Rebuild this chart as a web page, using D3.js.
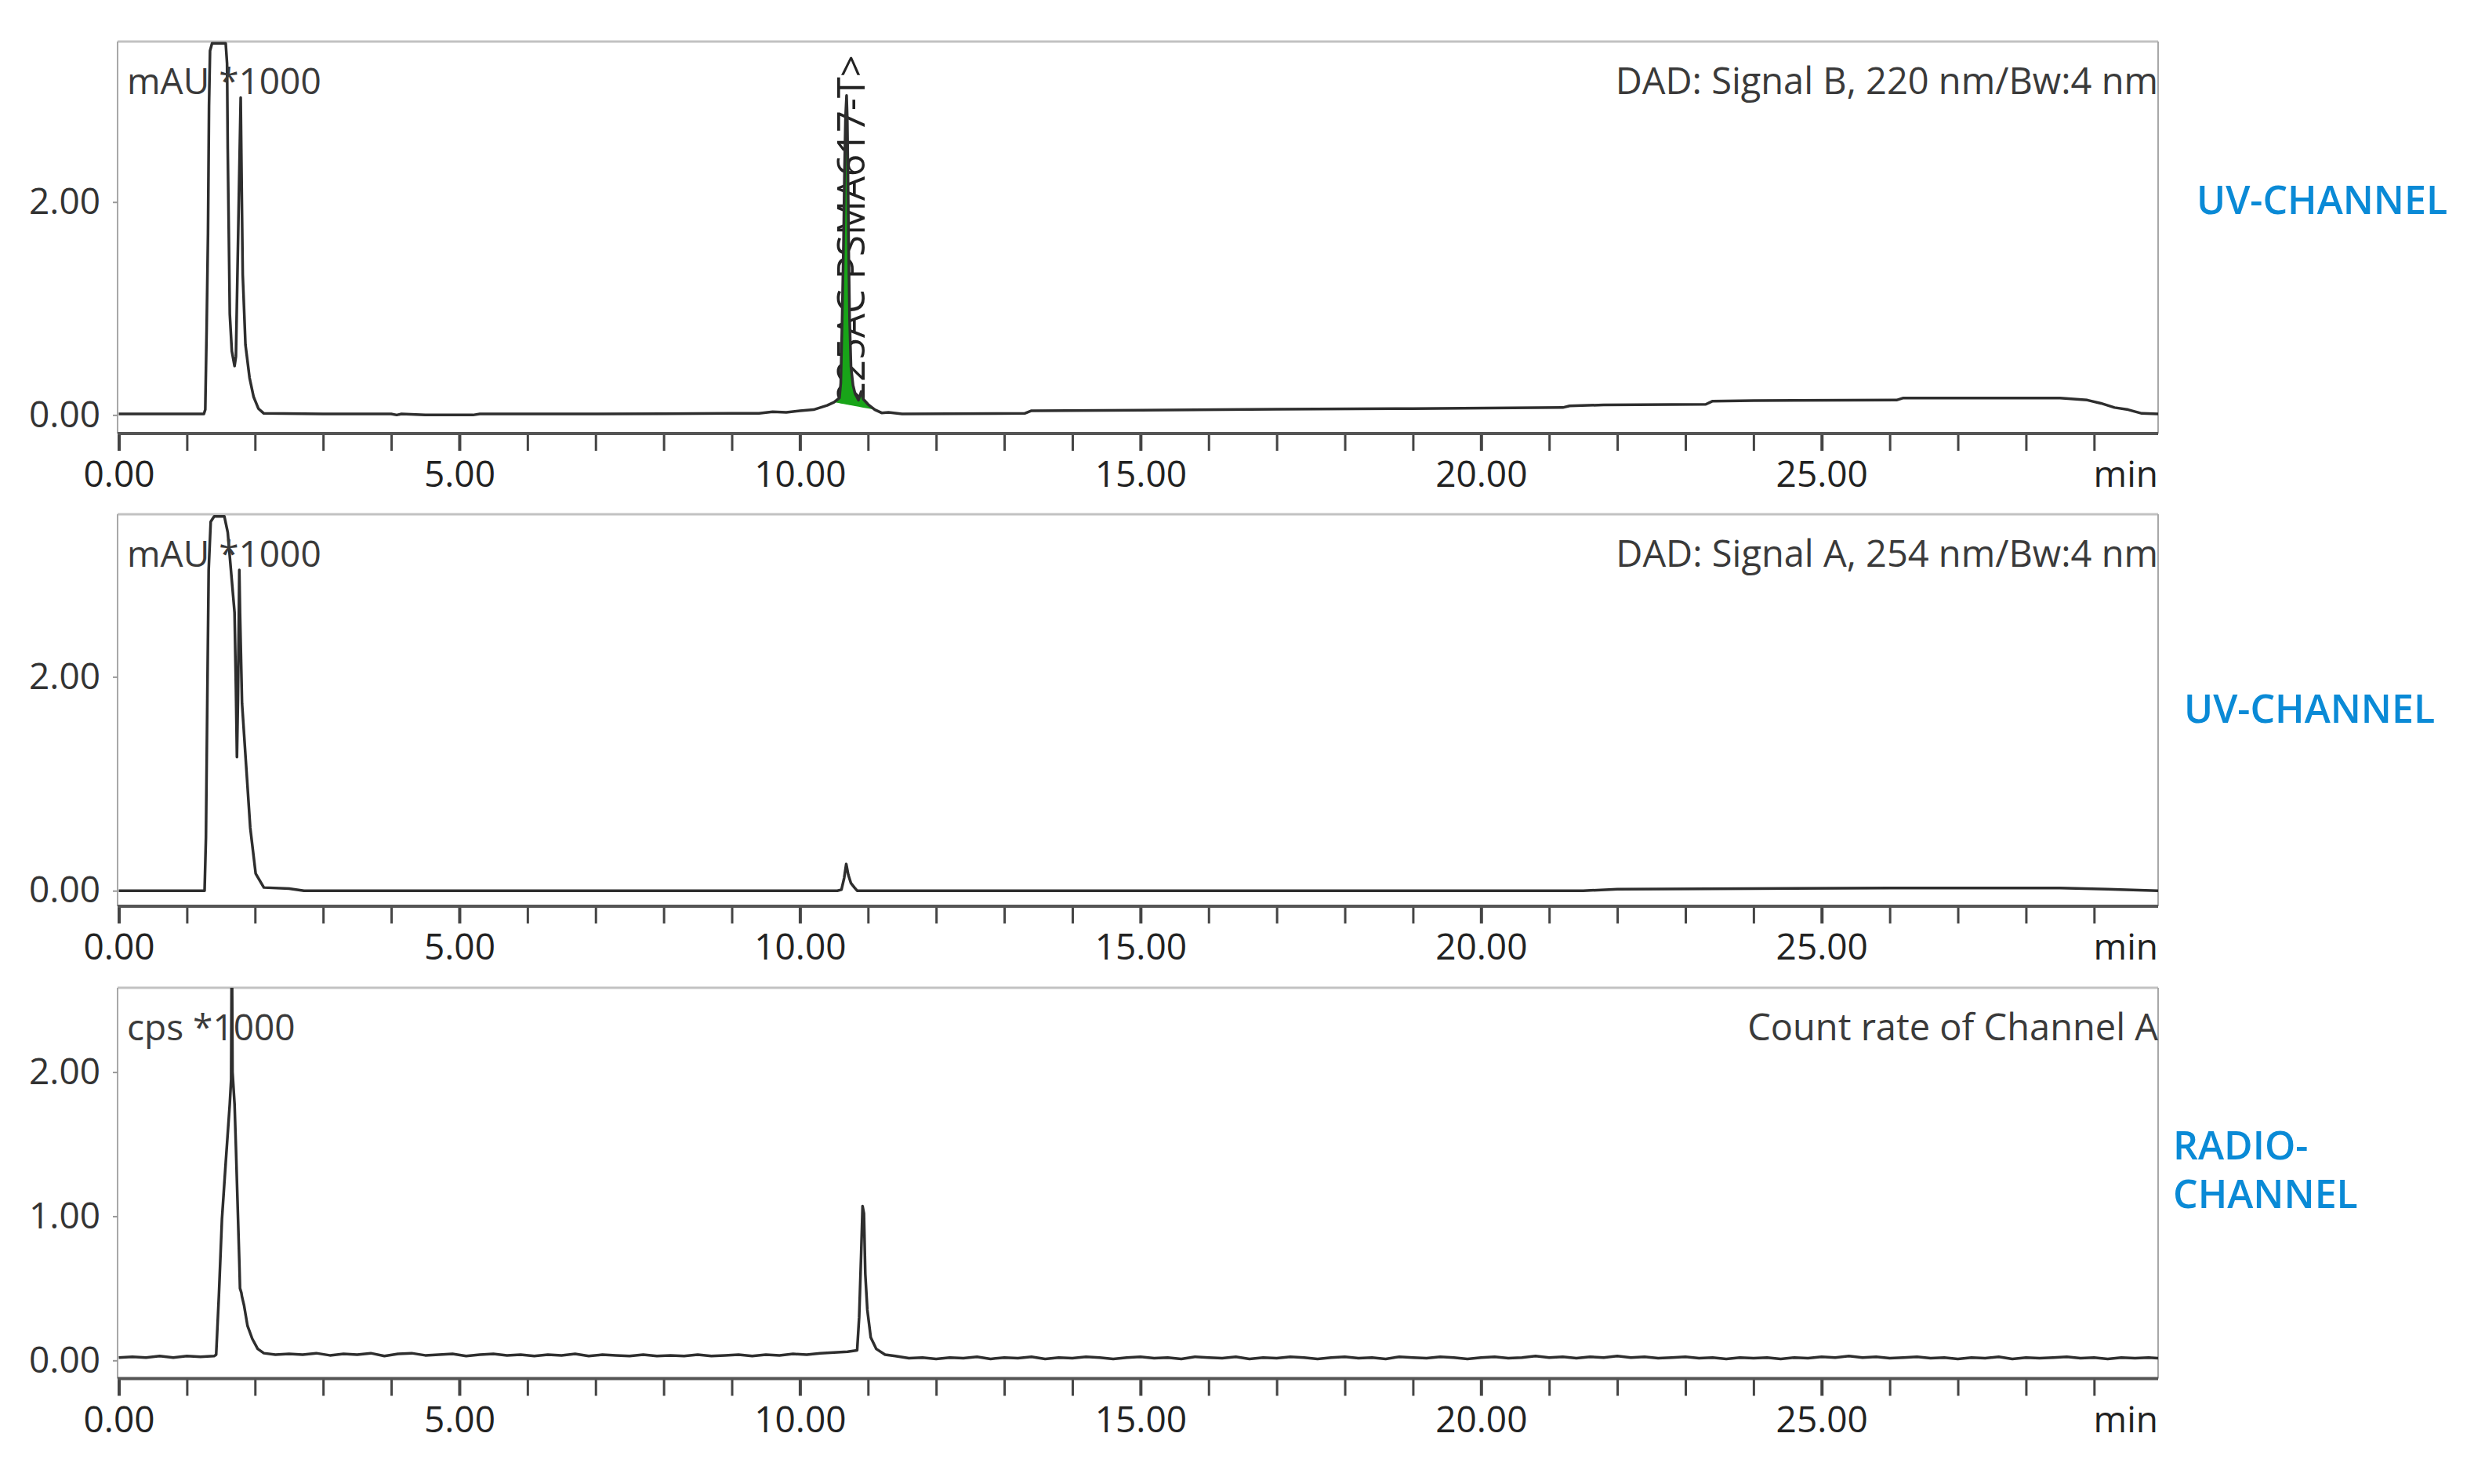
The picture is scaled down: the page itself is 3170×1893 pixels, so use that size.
<!DOCTYPE html>
<html>
<head>
<meta charset="utf-8">
<script src="https://cdn.jsdelivr.net/npm/d3@7"></script>
<style>
  body { margin: 0; background: #fff; }
  text { font-family: "Open Sans", sans-serif; }
</style>
</head>
<body>
<div id="chart"></div>
<script>
// x axis (retention time, min)
var minorTicks = [0,1,2,3,4,5,6,7,8,9,10,11,12,13,14,15,16,17,18,19,20,21,22,23,24,25,26,27,28,29];
var majorTicks = [0, 5, 10, 15, 20, 25];
var tickLabels = ["0.00", "5.00", "10.00", "15.00", "20.00", "25.00"];

// DAD signal B, 220 nm  [min, mAU*1000]
var uv220 = [
  [0,0.01],[1.25,0.01],[1.27,0.05],[1.29,0.8],[1.31,1.7],[1.325,2.9],[1.34,3.42],[1.37,3.49],
  [1.57,3.49],[1.59,3.3],[1.60,2.5],[1.63,0.95],[1.66,0.6],[1.70,0.46],[1.72,0.55],[1.79,2.98],
  [1.805,2.13],[1.82,1.32],[1.86,0.66],[1.92,0.35],[1.98,0.17],[2.05,0.06],[2.13,0.015],
  [3.0,0.01],[4.0,0.01],[4.08,0.0],[4.15,0.01],[4.5,0.0],[5.2,0.0],[5.3,0.01],[7.0,0.01],
  [8.0,0.012],[9.0,0.015],[9.4,0.015],[9.6,0.03],[9.8,0.025],[10.0,0.04],[10.2,0.05],[10.4,0.09],
  [10.5,0.12],[10.58,0.16],[10.60,0.3],[10.62,0.9],[10.64,1.6],[10.655,2.3],[10.67,2.8],[10.685,3.0],
  [10.695,2.8],[10.705,2.3],[10.715,1.6],[10.73,0.9],[10.75,0.45],[10.78,0.28],[10.81,0.2],
  [10.86,0.14],[10.90,0.22],[10.93,0.15],[11.0,0.1],[11.1,0.05],
  [11.2,0.02],[11.3,0.025],[11.5,0.01],[13.3,0.015],[13.4,0.04],[15,0.045],[17,0.055],[19,0.06],
  [21.2,0.07],[21.3,0.085],[21.8,0.095],[23.3,0.1],[23.4,0.13],[24,0.135],[26.1,0.14],[26.2,0.16],
  [28.5,0.16],[28.9,0.14],[29.1,0.11],[29.3,0.07],[29.5,0.05],[29.7,0.015],[29.94,0.01]
];
// integrated peak window on the 220 nm trace
var peakWindow = [10.5, 11.1];
var peakName = "225AC PSMA617-T>";
var peakTime = 10.70;

// DAD signal A, 254 nm
var uv254 = [
  [0,0.0],[1.26,0.0],[1.28,0.5],[1.30,1.8],[1.32,3.0],[1.35,3.45],[1.40,3.5],[1.55,3.5],
  [1.60,3.35],[1.66,2.9],[1.70,2.6],[1.72,1.9],[1.735,1.25],[1.75,1.8],[1.77,3.0],[1.78,2.6],
  [1.81,1.75],[1.87,1.17],[1.93,0.59],[2.01,0.16],[2.13,0.03],[2.5,0.02],[2.72,0.0],
  [10.55,0.0],[10.61,0.01],[10.65,0.12],[10.68,0.25],[10.71,0.15],[10.75,0.07],[10.8,0.03],
  [10.84,0.0],[21.5,0.0],[22,0.015],[24,0.02],[26,0.025],[28.5,0.025],[29.2,0.015],[29.94,0.0]
];

// radio detector, count rate channel A  [min, cps*1000]
var radio = [
  [0,0.02],[0.2,0.025],[0.4,0.02],[0.6,0.03],[0.8,0.02],[1.0,0.03],[1.2,0.025],[1.4,0.03],
  [1.43,0.04],[1.47,0.45],[1.515,0.98],[1.57,1.37],[1.63,1.78],[1.65,1.95],[1.66,3.0],[1.67,2.0],
  [1.70,1.78],[1.72,1.48],[1.77,0.68],[1.78,0.50],[1.80,0.47],[1.81,0.44],[1.84,0.38],[1.89,0.24],
  [1.96,0.15],[2.04,0.08],[2.13,0.05],[2.3,0.04],
  [2.5,0.045],[2.7,0.04],[2.9,0.05],[3.1,0.035],[3.3,0.045],[3.5,0.04],[3.7,0.05],[3.9,0.03],
  [4.1,0.045],[4.3,0.05],[4.5,0.035],[4.7,0.04],[4.9,0.045],[5.1,0.03],[5.3,0.04],[5.5,0.045],
  [5.7,0.035],[5.9,0.04],[6.1,0.03],[6.3,0.04],[6.5,0.035],[6.7,0.045],[6.9,0.03],[7.1,0.04],
  [7.3,0.035],[7.5,0.03],[7.7,0.04],[7.9,0.03],[8.1,0.035],[8.3,0.03],[8.5,0.04],[8.7,0.03],
  [8.9,0.035],[9.1,0.04],[9.3,0.03],[9.5,0.04],[9.7,0.035],[9.9,0.045],[10.1,0.04],[10.3,0.05],
  [10.5,0.055],[10.7,0.06],[10.84,0.07],
  [10.87,0.3],[10.90,0.75],[10.92,1.07],[10.94,1.02],[10.96,0.6],[10.99,0.35],[11.04,0.16],
  [11.12,0.08],[11.25,0.04],[11.4,0.03],[11.6,0.015],
  [11.8,0.02],[12.0,0.01],[12.2,0.02],[12.4,0.015],[12.6,0.025],[12.8,0.01],[13.0,0.02],[13.2,0.015],
  [13.4,0.025],[13.6,0.01],[13.8,0.02],[14.0,0.015],[14.2,0.025],[14.4,0.02],[14.6,0.01],[14.8,0.02],
  [15.0,0.025],[15.2,0.015],[15.4,0.02],[15.6,0.01],[15.8,0.025],[16.0,0.02],[16.2,0.015],[16.4,0.025],
  [16.6,0.01],[16.8,0.02],[17.0,0.015],[17.2,0.025],[17.4,0.02],[17.6,0.01],[17.8,0.02],[18.0,0.025],
  [18.2,0.015],[18.4,0.02],[18.6,0.01],[18.8,0.025],[19.0,0.02],[19.2,0.015],[19.4,0.025],[19.6,0.02],
  [19.8,0.01],[20.0,0.02],[20.2,0.025],[20.4,0.015],[20.6,0.02],[20.8,0.03],[21.0,0.02],[21.2,0.025],
  [21.4,0.015],[21.6,0.025],[21.8,0.02],[22.0,0.03],[22.2,0.02],[22.4,0.025],[22.6,0.015],[22.8,0.02],
  [23.0,0.025],[23.2,0.015],[23.4,0.02],[23.6,0.01],[23.8,0.02],[24.0,0.015],[24.2,0.02],[24.4,0.01],
  [24.6,0.02],[24.8,0.015],[25.0,0.025],[25.2,0.02],[25.4,0.03],[25.6,0.02],[25.8,0.025],[26.0,0.015],
  [26.2,0.02],[26.4,0.025],[26.6,0.015],[26.8,0.02],[27.0,0.01],[27.2,0.02],[27.4,0.015],[27.6,0.025],
  [27.8,0.01],[28.0,0.02],[28.2,0.015],[28.4,0.02],[28.6,0.025],[28.8,0.015],[29.0,0.02],[29.2,0.01],
  [29.4,0.02],[29.6,0.015],[29.8,0.02],[29.94,0.015]
];

var panelTitles = ["DAD: Signal B, 220 nm/Bw:4 nm", "DAD: Signal A, 254 nm/Bw:4 nm", "Count rate of Channel A"];
var unitLabels = ["mAU *1000", "mAU *1000", "cps *1000"];
var channelLabels = [["UV-CHANNEL"], ["UV-CHANNEL"], ["RADIO-", "CHANNEL"]];
var yTickValues = [[0, 2], [0, 2], [0, 1, 2]];

// layout of the three stacked panels
var panels = [
  {data: uv220, top: 53, bottom: 553, yDomain: [-0.174, 3.507], chX: 2802, chY: [273]},
  {data: uv254, top: 656, bottom: 1156, yDomain: [-0.145, 3.52], chX: 2786, chY: [922]},
  {data: radio, top: 1260, bottom: 1758.5, yDomain: [-0.126, 2.585], chX: 2772, chY: [1479, 1541]}
];

var left = 150, right = 2753;

var svg = d3.select("#chart")
  .append("svg")
    .attr("width", 3170)
    .attr("height", 1893)
    .style("background", "#fff");

var x = d3.scaleLinear()
  .domain([0, 29.94])
  .range([151.5, right]);

panels.forEach(function(p, i) {
  var y = d3.scaleLinear()
    .domain(p.yDomain)
    .range([p.bottom, p.top]);

  var g = svg.append("g");

  g.append("clipPath")
    .attr("id", "clip" + i)
    .append("rect")
      .attr("x", left)
      .attr("y", p.top)
      .attr("width", right - left)
      .attr("height", p.bottom - p.top);

  // frame
  g.append("line")
    .attr("x1", left).attr("x2", right)
    .attr("y1", p.top).attr("y2", p.top)
    .attr("stroke", "#c2c2c2").attr("stroke-width", 3);
  g.selectAll(".side")
    .data([left, right])
    .enter()
    .append("line")
      .attr("x1", function(d) { return d; })
      .attr("x2", function(d) { return d; })
      .attr("y1", p.top).attr("y2", p.bottom)
      .attr("stroke", "#a8a8a8").attr("stroke-width", 2);

  // peak name sits under the trace, like the integrator prints it
  if (i === 0) {
    g.append("text")
      .attr("transform", "translate(" + (x(peakTime) + 22) + ",515) rotate(-90)")
      .attr("fill", "#222")
      .style("font-size", "49px")
      .text(peakName);
  }

  var line = d3.line()
    .x(function(d) { return x(d[0]); })
    .y(function(d) { return y(d[1]); });

  var plot = g.append("g").attr("clip-path", "url(#clip" + i + ")");

  if (i === 0) {
    // shaded integration area of the labelled peak
    var pk = p.data.filter(function(d) { return d[0] >= peakWindow[0] && d[0] <= peakWindow[1]; });
    var a = pk[0], b = pk[pk.length - 1];
    var area = d3.area()
      .x(function(d) { return x(d[0]); })
      .y0(function(d) { return y(a[1] + (b[1] - a[1]) * (d[0] - a[0]) / (b[0] - a[0])); })
      .y1(function(d) { return y(d[1]); });
    plot.append("path")
      .datum(pk)
      .attr("d", area)
      .attr("fill", "#18a418");
  }

  plot.append("path")
    .datum(p.data)
    .attr("d", line)
    .attr("fill", "none")
    .attr("stroke", "#2e2e2e")
    .attr("stroke-width", 3.5)
    .attr("stroke-linejoin", "round");

  // x axis
  var xAxis = g.append("g")
    .attr("transform", "translate(0," + p.bottom + ")")
    .call(d3.axisBottom(x)
      .tickValues(minorTicks)
      .tickSize(22)
      .tickFormat(function(d) {
        var k = majorTicks.indexOf(d);
        return k >= 0 ? tickLabels[k] : "";
      }));
  xAxis.select(".domain").remove();
  xAxis.append("line")
    .attr("x1", left).attr("x2", right)
    .attr("stroke", "#555").attr("stroke-width", 4);
  xAxis.selectAll(".tick line")
    .attr("stroke", "#444")
    .attr("stroke-width", function(d) { return majorTicks.indexOf(d) >= 0 ? 4 : 3; });
  xAxis.selectAll(".tick text")
    .attr("y", 68)
    .attr("dy", null)
    .attr("fill", "#222")
    .style("font-size", "46px");
  xAxis.append("text")
    .attr("x", right)
    .attr("y", 68)
    .attr("text-anchor", "end")
    .attr("fill", "#222")
    .style("font-size", "46px")
    .text("min");

  // y axis
  var yAxis = g.append("g")
    .attr("transform", "translate(" + left + ",0)")
    .call(d3.axisLeft(y)
      .tickValues(yTickValues[i])
      .tickSize(6)
      .tickPadding(16)
      .tickFormat(d3.format(".2f")));
  yAxis.select(".domain").remove();
  yAxis.selectAll(".tick line").attr("stroke", "#999").attr("stroke-width", 2);
  yAxis.selectAll(".tick text")
    .attr("fill", "#333")
    .style("font-size", "46px");

  g.append("text")
    .attr("x", 162)
    .attr("y", p.top + 67)
    .attr("fill", "#3a3a3a")
    .style("font-size", "46px")
    .text(unitLabels[i]);

  g.append("text")
    .attr("x", right)
    .attr("y", p.top + 67)
    .attr("text-anchor", "end")
    .attr("fill", "#3a3a3a")
    .style("font-size", "47px")
    .text(panelTitles[i]);

  g.selectAll(".channel")
    .data(channelLabels[i])
    .enter()
    .append("text")
      .attr("x", p.chX)
      .attr("y", function(d, k) { return p.chY[k]; })
      .attr("fill", "#0a8ad6")
      .style("font-size", "50px")
      .style("font-weight", 600)
      .text(function(d) { return d; });
});
</script>
</body>
</html>
